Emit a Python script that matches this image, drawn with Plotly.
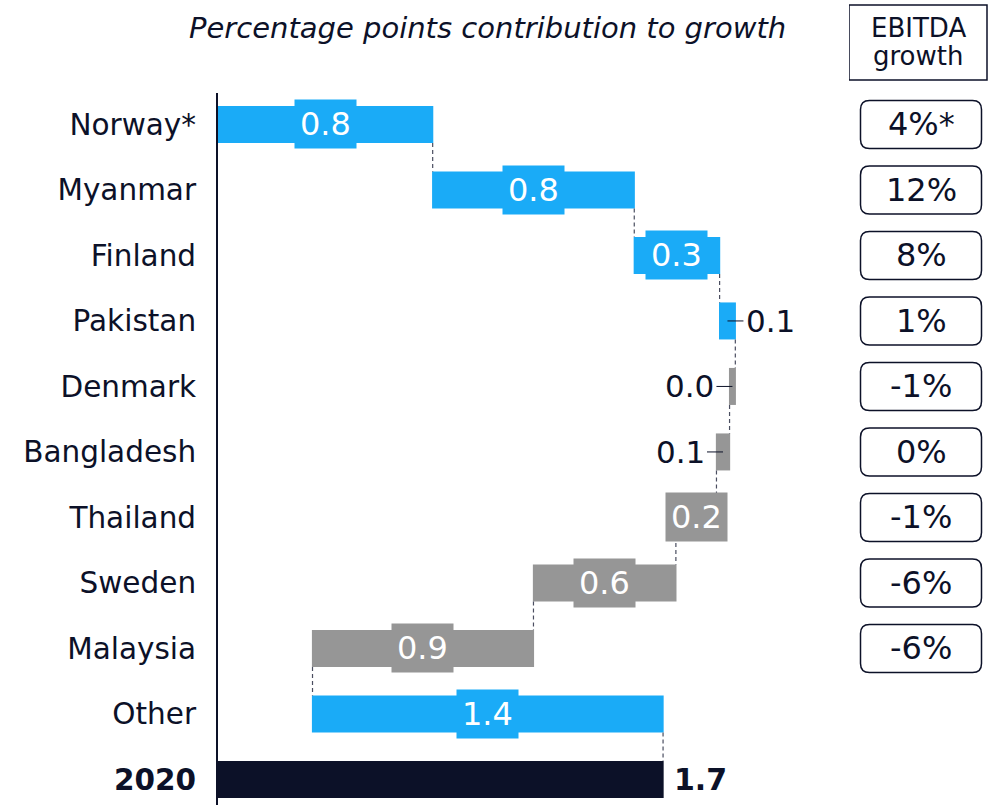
import plotly.graph_objects as go

# ---- data ----
categories = ["Norway*", "Myanmar", "Finland", "Pakistan", "Denmark", "Bangladesh",
              "Thailand", "Sweden", "Malaysia", "Other", "2020"]
contributions = [0.82, 0.77, 0.326, 0.06, -0.022, -0.05, -0.155, -0.544, -0.844, 1.339]
value_labels = ["0.8", "0.8", "0.3", "0.1", "0.0", "0.1", "0.2", "0.6", "0.9", "1.4"]
total_value = 1.70
total_label = "1.7"
ebitda_growth = ["4%*", "12%", "8%", "1%", "-1%", "0%", "-1%", "-6%", "-6%"]

# ---- style ----
BLUE = "#1aabf7"
GREY = "#969696"
NAVY = "#0c1128"
FONT = "DejaVu Sans, Verdana, sans-serif"
W, H = 988, 805
ML, MT = 218, 93
px_per_row = (H - MT) / 10.87

rows = list(range(len(categories)))
ticktext = categories[:-1] + ["<b>" + categories[-1] + "</b>"]

fig = go.Figure()
fig.add_trace(go.Waterfall(
    orientation="h",
    y=rows,
    x=contributions + [total_value],
    measure=["relative"] * len(contributions) + ["total"],
    base=0,
    width=0.565,
    increasing=dict(marker=dict(color=BLUE)),
    decreasing=dict(marker=dict(color=GREY)),
    totals=dict(marker=dict(color=NAVY)),
    connector=dict(mode="between", line=dict(color="#4a4e60", width=1.2, dash="4px,3px")),
    textinfo="none",
    hoverinfo="skip",
    xaxis="x", yaxis="y",
))
# invisible helper trace so the right column axis exists
fig.add_trace(go.Scatter(x=[860], y=[0], mode="markers", marker=dict(opacity=0),
                         xaxis="x2", yaxis="y", showlegend=False, hoverinfo="skip"))

annotations = []
shapes = []
running = 0.0
for i, (v, label) in enumerate(zip(contributions, value_labels)):
    start, end = running, running + v
    running = end
    mid = (start + end) / 2
    color = BLUE if v >= 0 else GREY
    if abs(v) >= 0.1:
        annotations.append(dict(x=mid, y=i, xref="x", yref="y", text=label, showarrow=False,
                                font=dict(family=FONT, size=32, color="white"),
                                bgcolor=color, borderpad=5))
    else:
        annotations.append(dict(x=mid, y=i, xref="x", yref="y", text=label, showarrow=True,
                                arrowhead=0, arrowwidth=1, arrowcolor=NAVY,
                                ax=43 if v >= 0 else -43, ay=0, standoff=0,
                                font=dict(family=FONT, size=31, color=NAVY), borderpad=2))

annotations.append(dict(x=total_value, y=len(categories) - 1, xref="x", yref="y",
                        text="<b>" + total_label + "</b>", showarrow=False, xanchor="left",
                        xshift=9, font=dict(family=FONT, size=30, color=NAVY)))

# EBITDA growth boxes (right column, x2 in pixel-like units)
bx0, bx1 = 860.5, 981.5
half_h = 24 / px_per_row
r = 9
ry = r / px_per_row
for i, g in enumerate(ebitda_growth):
    y0, y1 = i - half_h, i + half_h
    path = (f"M {bx0 + r},{y0} L {bx1 - r},{y0} Q {bx1},{y0} {bx1},{y0 + ry} "
            f"L {bx1},{y1 - ry} Q {bx1},{y1} {bx1 - r},{y1} "
            f"L {bx0 + r},{y1} Q {bx0},{y1} {bx0},{y1 - ry} "
            f"L {bx0},{y0 + ry} Q {bx0},{y0} {bx0 + r},{y0} Z")
    shapes.append(dict(type="path", path=path, xref="x2", yref="y",
                       line=dict(color=NAVY, width=1.5), fillcolor="rgba(0,0,0,0)"))
    annotations.append(dict(x=(bx0 + bx1) / 2, y=i, xref="x2", yref="y", text=g,
                            showarrow=False, font=dict(family=FONT, size=32, color=NAVY)))

# header box
def py_to_paper(py):
    return (H - py) / (H - MT)

shapes.append(dict(type="rect", xref="x2", yref="paper", x0=849, x1=987,
                   y0=py_to_paper(80), y1=py_to_paper(5),
                   line=dict(color=NAVY, width=1.5), fillcolor="rgba(0,0,0,0)"))
for txt, py in [("EBITDA", 28), ("growth", 56)]:
    annotations.append(dict(x=918, y=py_to_paper(py), xref="x2", yref="paper",
                            xanchor="center", yanchor="middle",
                            text=txt, showarrow=False, align="center",
                            font=dict(family=FONT, size=26, color=NAVY)))

# title
annotations.append(dict(x=(487.5 - ML) / (W - ML), y=py_to_paper(28), xref="paper", yref="paper",
                        xanchor="center", yanchor="middle",
                        text="<i>Percentage points contribution to growth</i>", showarrow=False,
                        font=dict(family=FONT, size=29, color=NAVY)))

x_max = (840 - ML) / 261.8
fig.update_layout(
    width=W, height=H,
    margin=dict(l=ML, r=0, t=MT, b=0),
    plot_bgcolor="white", paper_bgcolor="white",
    showlegend=False,
    font=dict(family=FONT, color=NAVY, size=29),
    xaxis=dict(domain=[0, (840 - ML) / (W - ML)], range=[0, x_max], visible=False,
               showgrid=False, zeroline=False),
    xaxis2=dict(domain=[(849 - ML) / (W - ML), 1], range=[849, 988], visible=False,
                anchor="y", showgrid=False, zeroline=False),
    yaxis=dict(range=[10.39, -0.48], tickvals=rows, ticktext=ticktext,
               showline=True, linecolor=NAVY, linewidth=2, showgrid=False, zeroline=False,
               ticks="", ticklabelstandoff=14, tickfont=dict(family=FONT, size=29.5, color=NAVY)),
    annotations=annotations,
    shapes=shapes,
)

fig.write_html("out.html", config={"displayModeBar": False},
               post_script="document.body.style.margin='0px';")
